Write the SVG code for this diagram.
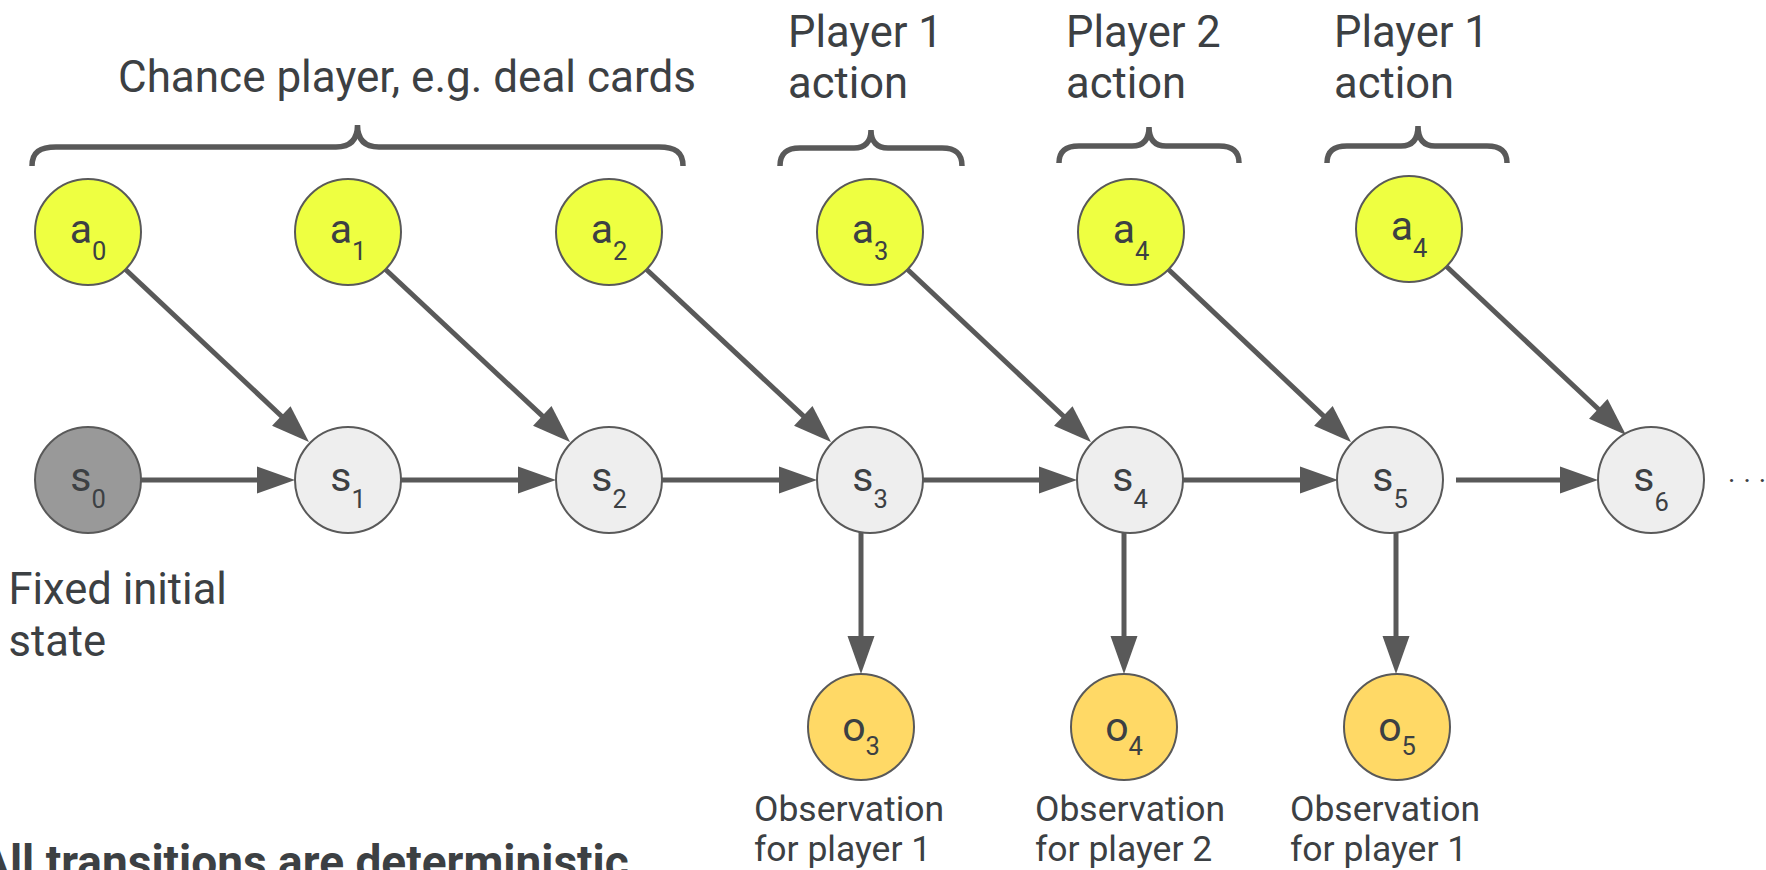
<svg xmlns="http://www.w3.org/2000/svg" width="1766" height="870" viewBox="0 0 1766 870">
  <style>
    text { font-family: Roboto, "Liberation Sans", sans-serif; fill: #3c4043; }
    .lbl { font-size: 43.5px; }
    .wide { font-size: 44px; }
    .obs { font-size: 35.5px; }
    .nl { font-size: 41px; text-anchor: middle; }
    .sub { font-size: 25.5px; }
    .node circle { stroke: #595959; stroke-width: 2; }
    .act circle { fill: #eeff41; }
    .st circle { fill: #eeeeee; }
    .init circle { fill: #999999; }
    .ob circle { fill: #ffd966; }
    .brace { fill: none; stroke: #595959; stroke-width: 5.5; }
    #connectors path { fill: none; stroke: #595959; stroke-width: 5; marker-end: url(#head); }
  </style>
  <defs>
    <marker id="head" markerUnits="userSpaceOnUse" markerWidth="40" markerHeight="30" refX="4" refY="0" orient="auto" overflow="visible">
      <path d="M0,-13.5 L38,0 L0,13.5 z" fill="#595959"/>
    </marker>
  </defs>

  <rect width="1766" height="870" fill="#ffffff"/>

  <!-- group labels and braces -->
  <g id="label-chance">
    <text class="wide" x="118" y="92">Chance player, e.g. deal cards</text>
    <path class="brace" d="M32,166 C32,152 40,147 56,147 L336,147 C350,147 357.5,140 357.5,125 C357.5,140 365,147 379,147 L659,147 C675,147 683,152 683,166"/>
  </g>
  <g id="label-p1-action">
    <text class="lbl" x="788" y="47">Player 1</text>
    <text class="lbl" x="788" y="98">action</text>
    <path class="brace" d="M780,166 C780,153 787,148 800,148 L854,148 C865,148 871,142 871,130 C871,142 877,148 888,148 L942,148 C955,148 962,153 962,166"/>
  </g>
  <g id="label-p2-action">
    <text class="lbl" x="1066" y="47">Player 2</text>
    <text class="lbl" x="1066" y="98">action</text>
    <path class="brace" d="M1059,163 C1059,151 1066,146 1079,146 L1132,146 C1143,146 1149,140 1149,127 C1149,140 1155,146 1166,146 L1219,146 C1232,146 1239,151 1239,163"/>
  </g>
  <g id="label-p1-action-2">
    <text class="lbl" x="1334" y="47">Player 1</text>
    <text class="lbl" x="1334" y="98">action</text>
    <path class="brace" d="M1327,163 C1327,151 1334,146 1347,146 L1401,146 C1412,146 1418,140 1418,126 C1418,140 1424,146 1435,146 L1487,146 C1500,146 1507,151 1507,163"/>
  </g>

  <!-- connectors -->
  <g id="connectors">
    <path d="M125,269 L284.2,418.7"/>
    <path d="M385,269 L545.2,418.7"/>
    <path d="M646,269 L806.2,418.7"/>
    <path d="M907,269 L1066.2,418.7"/>
    <path d="M1168,269 L1326.3,418.6"/>
    <path d="M1446,266 L1601.2,411.7"/>
    <path d="M141,480 H261"/>
    <path d="M401,480 H522"/>
    <path d="M662,480 H783"/>
    <path d="M923,480 H1043"/>
    <path d="M1183,480 H1304"/>
    <path d="M1456,480 H1564"/>
    <path d="M861,532 V640"/>
    <path d="M1124,533 V640"/>
    <path d="M1396,533 V640"/>
  </g>

  <!-- action nodes -->
  <g id="a0" class="node act"><circle cx="88" cy="232" r="53"/><text class="nl" x="88" y="243">a<tspan class="sub" dy="17">0</tspan></text></g>
  <g id="a1" class="node act"><circle cx="348" cy="232" r="53"/><text class="nl" x="348" y="243">a<tspan class="sub" dy="17">1</tspan></text></g>
  <g id="a2" class="node act"><circle cx="609" cy="232" r="53"/><text class="nl" x="609" y="243">a<tspan class="sub" dy="17">2</tspan></text></g>
  <g id="a3" class="node act"><circle cx="870" cy="232" r="53"/><text class="nl" x="870" y="243">a<tspan class="sub" dy="17">3</tspan></text></g>
  <g id="a4" class="node act"><circle cx="1131" cy="232" r="53"/><text class="nl" x="1131" y="243">a<tspan class="sub" dy="17">4</tspan></text></g>
  <g id="a4b" class="node act"><circle cx="1409" cy="229" r="53"/><text class="nl" x="1409" y="240">a<tspan class="sub" dy="17">4</tspan></text></g>

  <!-- state nodes -->
  <g id="s0" class="node init"><circle cx="88" cy="480" r="53"/><text class="nl" x="88" y="491">s<tspan class="sub" dy="17">0</tspan></text></g>
  <g id="s1" class="node st"><circle cx="348" cy="480" r="53"/><text class="nl" x="348" y="491">s<tspan class="sub" dy="17">1</tspan></text></g>
  <g id="s2" class="node st"><circle cx="609" cy="480" r="53"/><text class="nl" x="609" y="491">s<tspan class="sub" dy="17">2</tspan></text></g>
  <g id="s3" class="node st"><circle cx="870" cy="480" r="53"/><text class="nl" x="870" y="491">s<tspan class="sub" dy="17">3</tspan></text></g>
  <g id="s4" class="node st"><circle cx="1130" cy="480" r="53"/><text class="nl" x="1130" y="491">s<tspan class="sub" dy="17">4</tspan></text></g>
  <g id="s5" class="node st"><circle cx="1390" cy="480" r="53"/><text class="nl" x="1390" y="491">s<tspan class="sub" dy="17">5</tspan></text></g>
  <g id="s6" class="node st"><circle cx="1651" cy="480" r="53"/><text class="nl" x="1651" y="491">s<tspan class="sub" dy="20">6</tspan></text></g>
  <g id="more"><text x="1728" y="482" style="font-size:28px;letter-spacing:8px">...</text></g>

  <!-- observation nodes -->
  <g id="o3" class="node ob"><circle cx="861" cy="727" r="53"/><text class="nl" x="861" y="741">o<tspan class="sub" dy="14">3</tspan></text></g>
  <g id="o4" class="node ob"><circle cx="1124" cy="727" r="53"/><text class="nl" x="1124" y="741">o<tspan class="sub" dy="14">4</tspan></text></g>
  <g id="o5" class="node ob"><circle cx="1397" cy="727" r="53"/><text class="nl" x="1397" y="741">o<tspan class="sub" dy="14">5</tspan></text></g>

  <!-- captions -->
  <g id="caption-init">
    <text class="lbl" x="8.5" y="604">Fixed initial</text>
    <text class="lbl" x="8.5" y="656">state</text>
  </g>
  <g id="caption-o3">
    <text class="obs" x="754" y="821">Observation</text>
    <text class="obs" x="754" y="861">for player 1</text>
  </g>
  <g id="caption-o4">
    <text class="obs" x="1035" y="821">Observation</text>
    <text class="obs" x="1035" y="861">for player 2</text>
  </g>
  <g id="caption-o5">
    <text class="obs" x="1290" y="821">Observation</text>
    <text class="obs" x="1290" y="861">for player 1</text>
  </g>
  <g id="caption-note">
    <text x="-21" y="878" style="font-size:46px;font-weight:700">All transitions are deterministic</text>
  </g>
</svg>
